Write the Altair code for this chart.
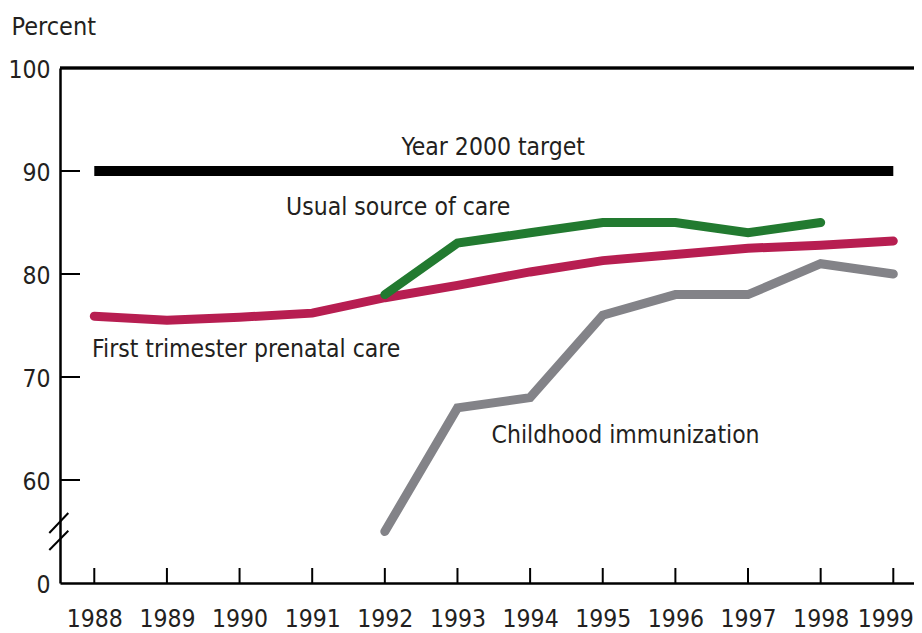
import altair as alt
import pandas as pd

# ---- data ----
years = list(range(1988, 2000))
prenatal = [75.9, 75.5, 75.8, 76.2, 77.7, 78.9, 80.2, 81.3, 81.9, 82.5, 82.8, 83.2]

usual_years = list(range(1992, 1999))
usual_care = [78, 83, 84, 85, 85, 84, 85]

immun_years = list(range(1992, 2000))
immunization = [55, 67, 68, 76, 78, 78, 81, 80]

target_years = [1988, 1999]
target_value = 90

y_tick_values = [50, 60, 70, 80, 90, 100]
y_break_label = "0"           # label shown at the broken-axis bottom
y_inner_ticks = [60, 70, 80, 90]

label_texts = ["Year 2000 target", "Usual source of care",
               "First trimester prenatal care", "Childhood immunization"]
label_x = [1992.23, 1990.64, 1987.97, 1993.47]
label_y = [91.55, 85.73, 71.97, 63.59]

# axis-break slashes (in value units on the y scale)
break_y1 = [53.2, 54.85]
break_y2 = [55.08, 56.8]

# ---- style ----
FONT = "DejaVu Sans Condensed, Liberation Sans Narrow, sans-serif"
TEXT = "#231f20"
FS = 24.5
W, H = 854, 515

x_scale = alt.Scale(domain=[1987.528, 1999.285], nice=False, zero=False)
y_scale = alt.Scale(domain=[50, 100], nice=False, zero=False)

x_axis = alt.Axis(values=years, format="d", labelPadding=24, labelFlush=25,
                  labelFlushOffset=20, labelOverlap=False, title=None)
y_axis = alt.Axis(values=y_tick_values, labelPadding=10, labelOffset=2,
                  labelExpr=f"datum.value == {y_tick_values[0]} ? '{y_break_label}' : datum.label",
                  title="Percent", titleAngle=0, titleX=-49, titleY=-34,
                  titleAlign="left", titleBaseline="alphabetic",
                  titleFontSize=FS + 0.5, titleFontWeight="normal", titleFont=FONT,
                  titleColor=TEXT)


def X(field="year"):
    return alt.X(f"{field}:Q", scale=x_scale, axis=x_axis)


def Y(field="value"):
    return alt.Y(f"{field}:Q", scale=y_scale, axis=y_axis)


df_pren = pd.DataFrame({"year": years, "value": prenatal})
df_usual = pd.DataFrame({"year": usual_years, "value": usual_care})
df_imm = pd.DataFrame({"year": immun_years, "value": immunization})
df_target = pd.DataFrame({"year": [target_years[0]], "year2": [target_years[1]],
                          "value": [target_value]})
df_labels = pd.DataFrame({"year": label_x, "value": label_y, "text": label_texts})
df_yticks = pd.DataFrame({"value": y_inner_ticks})
df_xticks = pd.DataFrame({"year": years})
df_break = pd.DataFrame({"value": break_y1, "value2": break_y2})

target = alt.Chart(df_target).mark_rule(color="black", strokeWidth=10, strokeCap="butt").encode(
    x=X(), x2="year2:Q", y=Y())

line_kw = dict(strokeWidth=9, strokeCap="round", strokeJoin="miter")
pren = alt.Chart(df_pren).mark_line(color="#b71e51", **line_kw).encode(x=X(), y=Y())
imm = alt.Chart(df_imm).mark_line(color="#838388", **line_kw).encode(x=X(), y=Y())
usual = alt.Chart(df_usual).mark_line(color="#227a30", **line_kw).encode(x=X(), y=Y())

labels = alt.Chart(df_labels).mark_text(
    align="left", baseline="alphabetic", font=FONT, fontSize=FS, color=TEXT
).encode(x=X(), y=Y(), text="text:N")

yticks = alt.Chart(df_yticks).mark_rule(color="black", strokeWidth=2).encode(
    y=Y(), x=alt.value(0), x2=alt.value(20))
xticks = alt.Chart(df_xticks).mark_rule(color="black", strokeWidth=2).encode(
    x=X(), y=alt.value(H), y2=alt.value(H - 15))
top_frame = alt.Chart(df_yticks).mark_rule(color="black", strokeWidth=2.5).encode(
    y=alt.datum(100, scale=y_scale))
breaks = alt.Chart(df_break).mark_rule(color="black", strokeWidth=2).encode(
    y=Y(), y2="value2:Q", x=alt.value(-10.7), x2=alt.value(8.3))

chart = alt.layer(
    target, pren, imm, usual, labels, yticks, xticks, top_frame, breaks
).properties(
    width=W, height=H,
    autosize=alt.AutoSizeParams(type="none"),
    padding={"left": 52, "top": 60, "right": 0, "bottom": 58},
    background="white",
).configure_view(stroke=None).configure_axis(
    domainColor="black", domainWidth=2.5, ticks=False, grid=False,
    labelFont=FONT, labelFontSize=FS, labelColor=TEXT,
)

chart.save("out.html", embed_options={"renderer": "svg", "actions": False})
